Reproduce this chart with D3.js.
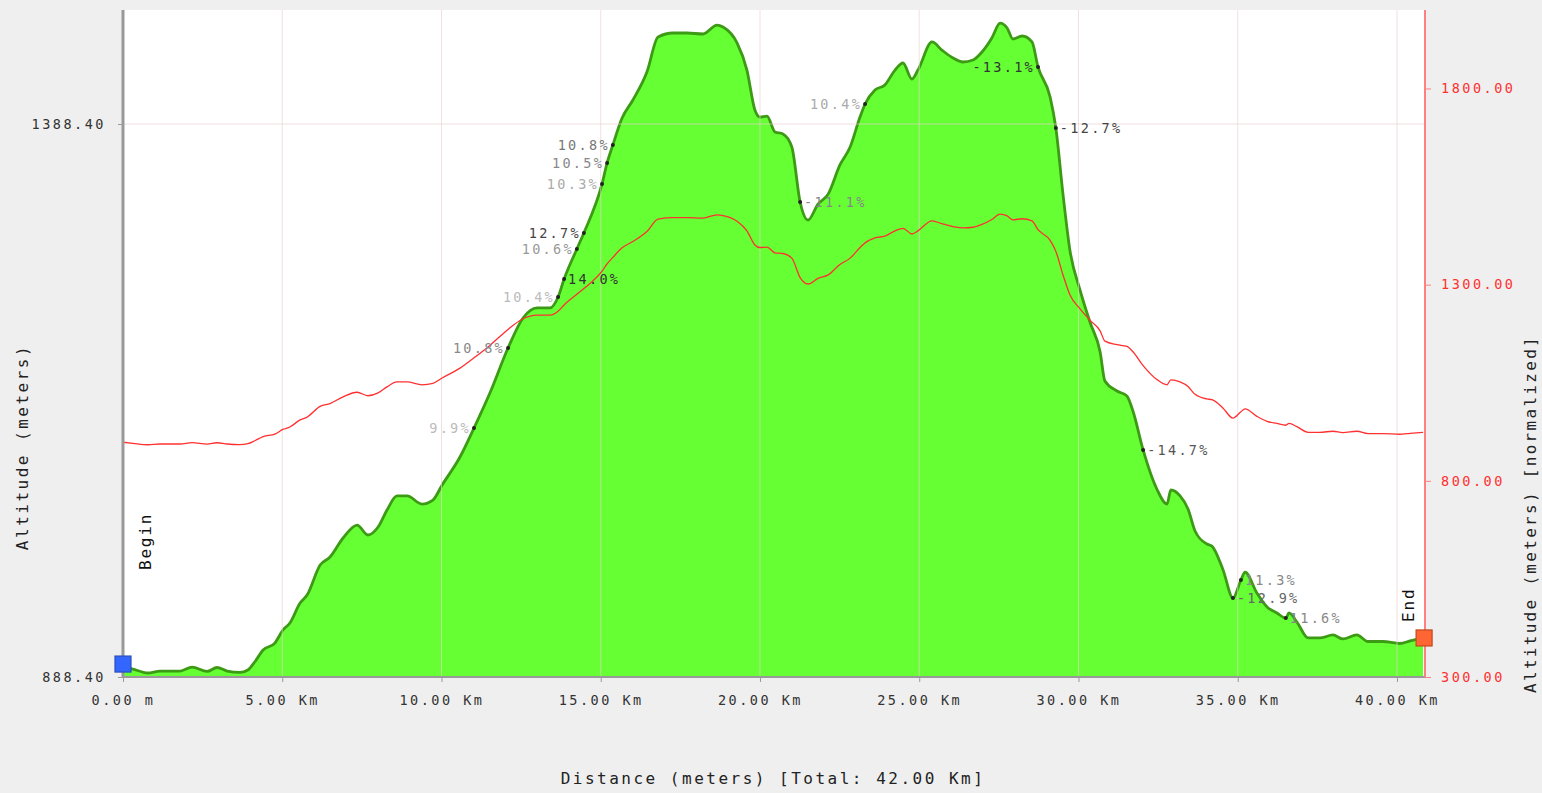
<!DOCTYPE html>
<html>
<head>
<meta charset="utf-8">
<script src="https://cdn.jsdelivr.net/npm/d3@7"></script>
<style>
  body { margin: 0; background: #efefef; }
  text { font-family: "DejaVu Sans Mono", monospace; }
</style>
</head>
<body>
<script>
// profile: distance (km) and altitude (m)
const distKm = [0, 0.31, 0.78, 1.16, 1.48, 1.79, 2.17, 2.64, 2.95, 3.27, 3.67, 3.92, 4.14, 4.40, 4.77,
  5.02, 5.24, 5.56, 5.78, 6.19, 6.50, 6.91, 7.35, 7.69, 8.01, 8.29, 8.60, 8.92, 9.39, 9.73,
  10.02, 10.58, 11.02, 11.52, 12.09, 12.56, 13.00, 13.41, 13.66, 13.85, 14.25, 14.47, 15.04, 15.20, 15.38,
  15.67, 16.01, 16.45, 16.80, 17.27, 17.71, 18.21, 18.65, 18.84, 19.28, 19.59, 19.84, 20.00, 20.22, 20.47,
  20.72, 21.00, 21.26, 21.51, 21.82, 22.14, 22.51, 22.83, 23.14, 23.30, 23.61, 23.92, 24.24, 24.49, 24.77,
  24.96, 25.40, 25.71, 26.06, 26.37, 26.69, 26.97, 27.28, 27.54, 27.76, 27.94, 28.23, 28.54, 28.73, 29.11,
  29.29, 29.51, 29.73, 30.05, 30.36, 30.68, 30.83, 31.21, 31.52, 31.71, 32.03, 32.46, 32.78, 32.90, 33.19,
  33.44, 33.66, 34.03, 34.19, 34.54, 34.85, 35.10, 35.23, 35.60, 35.92, 36.23, 36.51, 36.61, 36.86, 37.21,
  37.58, 37.99, 38.30, 38.74, 39.09, 39.56, 40.09, 40.41, 40.82]
const altitude = [898.3, 895.6, 892.0, 893.8, 893.8, 893.8, 897.4, 893.4, 897.0, 893.8, 892.5, 894.7, 902.2, 912.8, 919.1,
  930.9, 937.2, 955.3, 962.5, 989.7, 996.9, 1014.1, 1025.8, 1016.8, 1024.0, 1039.4, 1052.1, 1052.1, 1044.8, 1048.4,
  1062.0, 1087.3, 1113.5, 1145.2, 1185.9, 1213.0, 1222.1, 1222.1, 1232.0, 1248.3, 1275.4, 1289.9, 1334.2, 1353.2, 1369.4,
  1393.8, 1410.1, 1435.4, 1467.1, 1470.7, 1470.7, 1469.8, 1477.9, 1476.1, 1461.7, 1437.2, 1401.1, 1394.7, 1395.6, 1381.2,
  1379.4, 1367.6, 1317.9, 1301.6, 1316.0, 1325.0, 1351.4, 1367.6, 1394.7, 1406.5, 1419.2, 1423.7, 1437.2, 1443.6, 1429.1,
  1437.2, 1462.6, 1455.3, 1448.1, 1444.5, 1446.3, 1453.5, 1466.2, 1479.7, 1475.2, 1465.3, 1468.0, 1462.6, 1440.0, 1412.8,
  1384.8, 1326.0, 1274.5, 1238.3, 1209.4, 1182.3, 1156.0, 1147.0, 1142.5, 1128.9, 1093.7, 1058.4, 1044.8, 1057.5, 1052.1,
  1040.3, 1020.4, 1008.7, 1006.8, 985.2, 959.8, 976.1, 983.3, 964.4, 951.7, 946.3, 941.7, 946.3, 938.1, 923.7,
  923.7, 926.4, 922.8, 926.4, 920.5, 920.5, 918.7, 921.0, 923.7]

// gradient labels (km of the marked point, text)
const gradKm = [11.02, 12.09, 13.66, 13.85, 14.25, 14.47, 15.04, 15.20, 15.38, 21.26, 23.30, 28.73, 29.29, 32.03, 35.10, 34.85, 36.51]
const gradText = ["9.9%", "10.8%", "10.4%", "14.0%", "10.6%", "12.7%", "10.3%", "10.5%", "10.8%", "-11.1%", "10.4%", "-13.1%", "-12.7%", "-14.7%", "11.3%", "-12.9%", "11.6%"]

const leftTicks = [888.40, 1388.40]
const rightTicks = [300, 800, 1300, 1800]
const distTicks = [0, 5, 10, 15, 20, 25, 30, 35, 40]

// label styling
const gradSide = ["l", "l", "l", "r", "l", "l", "l", "l", "l", "r", "l", "l", "r", "r", "r", "r", "r"]
const gradColor = ["#bbb", "#888", "#bbb", "#333", "#999", "#444", "#aaa", "#888", "#777", "#888", "#aaa", "#333", "#444", "#555", "#888", "#666", "#888"]

const data = distKm.map((d, i) => ({ km: d, alt: altitude[i] }))

const svg = d3.select("body")
              .append("svg")
              .attr("width", 1542)
              .attr("height", 793)
              .style("background-color", "#efefef")

const pLeft = 123, pRight = 1425, pTop = 10, pBottom = 677

const xscale = d3.scaleLinear().domain([0, 40.88]).range([pLeft, pRight])
const yleft = d3.scaleLinear().domain([888.4, 1491.5]).range([pBottom, pTop])
const yright = d3.scaleLinear().domain([300, 2000]).range([pBottom, pTop])

svg.append("rect")
   .attr("x", pLeft).attr("y", pTop)
   .attr("width", pRight - pLeft).attr("height", pBottom - pTop)
   .attr("fill", "#fff")

svg.append("clipPath").attr("id", "plot")
   .append("rect")
   .attr("x", pLeft).attr("y", pTop)
   .attr("width", pRight - pLeft).attr("height", pBottom - pTop)

const plot = svg.append("g").attr("clip-path", "url(#plot)")

// green altitude area
plot.append("path")
    .datum(data)
    .attr("d", d3.area().curve(d3.curveMonotoneX).x(d => xscale(d.km)).y0(pBottom).y1(d => yleft(d.alt)))
    .attr("fill", "#66ff33")

plot.append("path")
    .datum(data)
    .attr("d", d3.line().curve(d3.curveMonotoneX).x(d => xscale(d.km)).y(d => yleft(d.alt)))
    .attr("fill", "none")
    .attr("stroke", "#3c9a14")
    .attr("stroke-width", 2.8)
    .attr("stroke-linejoin", "round")

// grid lines
plot.selectAll(".vgrid")
    .data(distTicks.filter(d => d > 0))
    .enter()
    .append("line")
    .attr("x1", d => xscale(d)).attr("x2", d => xscale(d))
    .attr("y1", pTop).attr("y2", pBottom)
    .attr("stroke", "#ead0d0")
    .attr("stroke-opacity", 0.65)

plot.append("line")
    .attr("x1", pLeft).attr("x2", pRight)
    .attr("y1", yleft(1388.4)).attr("y2", yleft(1388.4))
    .attr("stroke", "#ead0d0")
    .attr("stroke-opacity", 0.65)

// normalized red line
plot.append("path")
    .datum(data)
    .attr("d", d3.line().curve(d3.curveMonotoneX).x(d => xscale(d.km)).y(d => yright(d.alt)))
    .attr("fill", "none")
    .attr("stroke", "#ff3030")
    .attr("stroke-width", 1.3)

// gradient dots and labels
const altAt = km => data[d3.minIndex(data, d => Math.abs(d.km - km))].alt

gradKm.forEach((k, i) => {
  const px = xscale(k), py = yleft(altAt(k))
  svg.append("circle")
     .attr("cx", px).attr("cy", py).attr("r", 2)
     .attr("fill", "#222")
  svg.append("text")
     .attr("x", gradSide[i] == "l" ? px - 3 : px + 4)
     .attr("y", py + 5)
     .attr("text-anchor", gradSide[i] == "l" ? "end" : "start")
     .attr("font-size", "13.5px")
     .attr("letter-spacing", "2.3px")
     .attr("fill", gradColor[i])
     .text(gradText[i])
})

// axes
const styleAxis = (g, color) => {
  g.selectAll("text").attr("font-family", "DejaVu Sans Mono").attr("font-size", "13.5px")
   .attr("letter-spacing", "2.5px").attr("fill", color)
  g.select(".domain").remove()
}

const axl = svg.append("g").attr("transform", `translate(${pLeft},0)`)
   .call(d3.axisLeft(yleft).tickValues(leftTicks).tickFormat(d3.format(".2f")).tickSize(5).tickPadding(12))
styleAxis(axl, "#333")
axl.selectAll("line").attr("stroke", "#999")

const axr = svg.append("g").attr("transform", `translate(${pRight},0)`)
   .call(d3.axisRight(yright).tickValues(rightTicks).tickFormat(d3.format(".2f")).tickSize(6).tickPadding(10))
styleAxis(axr, "#ff3030")
axr.selectAll("line").attr("stroke", "#ff8080")

const axb = svg.append("g").attr("transform", `translate(0,${pBottom})`)
   .call(d3.axisBottom(xscale).tickValues(distTicks)
     .tickFormat(d => d == 0 ? "0.00 m" : d.toFixed(2) + " Km").tickSize(5).tickPadding(13))
styleAxis(axb, "#333")
axb.selectAll("line").attr("stroke", "#999")

svg.append("line").attr("x1", pLeft).attr("x2", pRight).attr("y1", pBottom).attr("y2", pBottom)
   .attr("stroke", "#999").attr("stroke-width", 2)
svg.append("line").attr("x1", pLeft).attr("x2", pLeft).attr("y1", pTop).attr("y2", pBottom)
   .attr("stroke", "#999").attr("stroke-width", 3)
svg.append("line").attr("x1", pRight).attr("x2", pRight).attr("y1", pTop).attr("y2", pBottom)
   .attr("stroke", "#ff8080").attr("stroke-width", 2)

// begin / end markers
const first = data[0], last = data[data.length - 1]
svg.append("rect")
   .attr("x", xscale(first.km) - 8).attr("y", yleft(first.alt) - 10)
   .attr("width", 16).attr("height", 16)
   .attr("fill", "#3366ff").attr("stroke", "#2a4fb8").attr("stroke-width", 1.2)
svg.append("rect")
   .attr("x", xscale(last.km) - 7).attr("y", yleft(last.alt) - 8)
   .attr("width", 16).attr("height", 16)
   .attr("fill", "#ff6633").attr("stroke", "#c4481c").attr("stroke-width", 1.2)

svg.append("text")
   .attr("transform", `translate(151,${yleft(first.alt) - 96}) rotate(-90)`)
   .attr("font-size", "16px").attr("letter-spacing", "1.8px").attr("fill", "#111")
   .text("Begin")
svg.append("text")
   .attr("transform", `translate(1414,${yleft(last.alt) - 16}) rotate(-90)`)
   .attr("font-size", "16px").attr("letter-spacing", "1.8px").attr("fill", "#111")
   .text("End")

// titles
svg.append("text")
   .attr("transform", "translate(28,447) rotate(-90)")
   .attr("text-anchor", "middle")
   .attr("font-size", "16px").attr("letter-spacing", "2.5px").attr("fill", "#222")
   .text("Altitude (meters)")
svg.append("text")
   .attr("transform", "translate(1536,514) rotate(-90)")
   .attr("text-anchor", "middle")
   .attr("font-size", "16px").attr("letter-spacing", "2.3px").attr("fill", "#222")
   .text("Altitude (meters) [normalized]")
svg.append("text")
   .attr("x", 773).attr("y", 784)
   .attr("text-anchor", "middle")
   .attr("font-size", "16px").attr("letter-spacing", "2.5px").attr("fill", "#222")
   .text("Distance (meters) [Total: 42.00 Km]")
</script>
</body>
</html>
